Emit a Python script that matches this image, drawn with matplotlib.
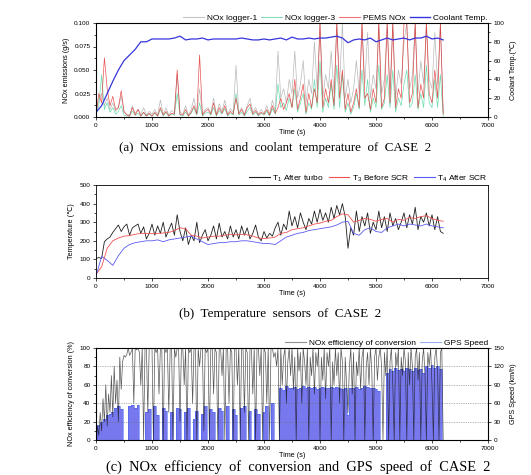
import numpy as np
import matplotlib
matplotlib.use("Agg")
import matplotlib.pyplot as plt
from matplotlib.ticker import MultipleLocator, AutoMinorLocator, FormatStrFormatter
from matplotlib.lines import Line2D

SANS = ["Liberation Sans", "DejaVu Sans"]
SERIF = ["Liberation Serif", "DejaVu Serif"]
plt.rcParams["font.family"] = SANS
plt.rcParams["mathtext.fontset"] = "custom"
plt.rcParams["mathtext.rm"] = "Liberation Sans"

TICK_FS = 4.6
LABEL_FS = 5.2
LEG_FS = 6.0
CAP_FS = 9.4

# ---------------- data ----------------
# (a) NOx emissions, mg/s, sampled every 50 s from 0 to 6200 s
nox_logger1 = [
    5, 18, 25, 12, 20, 8, 15, 6, 10, 22, 5, 3,
    2, 12, 4, 8, 3, 10, 2, 6, 3,
    8, 2, 18, 3, 10, 2, 7, 4, 45, 5,
    3, 12, 2, 8, 20, 4, 30, 3, 8, 10,
    4, 20, 3, 14, 6, 18, 3, 9, 5, 55,
    4, 10, 3, 12, 20, 5, 10, 3, 8, 4,
    12, 3, 18, 6, 70, 20, 30, 15, 40, 25,
    70, 20, 35, 60, 15, 40, 25, 80, 30, 100,
    20, 45, 30, 70, 25, 100, 35, 100, 20, 40,
    15, 30, 60, 25, 100, 35, 90, 20, 45, 30,
    100, 25, 40, 100, 30, 100, 20, 50, 35, 80,
    100, 30, 45, 100, 25, 60, 35, 100, 40, 30,
    90, 35, 100, 5,
]
nox_logger3 = [
    3, 12, 45, 8, 15, 5, 10, 3, 6, 12, 2, 1,
    1, 6, 2, 4, 1, 5, 1, 3, 1,
    4, 1, 8, 1, 5, 1, 3, 2, 25, 2,
    1, 5, 1, 4, 10, 2, 15, 1, 4, 5,
    2, 10, 1, 7, 3, 9, 1, 4, 2, 25,
    2, 5, 1, 6, 10, 2, 5, 1, 4, 2,
    6, 1, 9, 3, 35, 10, 15, 7, 20, 10,
    30, 5, 15, 25, 3, 15, 8, 40, 10, 60,
    5, 20, 10, 35, 8, 55, 10, 45, 5, 15,
    3, 10, 25, 8, 50, 12, 40, 5, 20, 10,
    55, 8, 15, 45, 10, 50, 5, 20, 12, 35,
    50, 10, 15, 45, 8, 25, 10, 55, 15, 10,
    40, 10, 45, 1,
]
nox_pems = [
    2, 25, 15, 63, 30, 12, 22, 8, 10, 28, 6, 2,
    1, 10, 2, 8, 1, 5, 1, 4, 1,
    5, 1, 10, 2, 6, 1, 4, 3, 50, 3,
    2, 8, 1, 5, 12, 3, 66, 2, 6, 8,
    3, 15, 2, 10, 4, 12, 2, 6, 3, 20,
    3, 8, 2, 10, 14, 3, 7, 2, 5, 3,
    8, 2, 12, 4, 10, 20, 8, 15, 25, 10,
    40, 8, 20, 35, 5, 25, 10, 30, 15, 100,
    10, 30, 15, 40, 12, 100, 20, 50, 8, 25,
    5, 15, 30, 10, 100, 20, 25, 8, 30, 15,
    100, 10, 20, 100, 15, 100, 10, 30, 20, 100,
    100, 15, 25, 100, 10, 35, 20, 100, 25, 15,
    50, 20, 100, 3,
]
# coolant temperature, every 100 s
coolant = [
    5, 12, 25, 38, 50, 60, 66, 72, 80, 80,
    83, 83, 83, 83, 84, 86, 82, 83, 83, 84,
    82, 83, 83, 83, 83, 83, 84, 83, 82, 82,
    83, 82, 83, 84, 82, 85, 83, 83, 84, 83,
    84, 84, 85, 86, 84, 79, 82, 83, 82, 84,
    80, 82, 84, 82, 83, 84, 82, 84, 84, 86,
    83, 84, 82,
]

# (b) temperatures
t1_turbo = [  # every 50 s
    105, 110, 105, 195, 210, 220, 245, 265, 285, 250, 275, 290,
    230, 270, 280, 290, 240, 275, 210, 240, 290,
    230, 280, 240, 300, 220, 260, 295, 230, 340, 250,
    200, 270, 180, 230, 200, 300, 190, 230, 260, 200,
    230, 280, 210, 295, 220, 250, 210, 280, 220, 260,
    210, 280, 230, 270, 210, 240, 285, 220, 200, 250,
    215, 240, 225, 270, 300, 230, 290, 260, 360, 280,
    330, 270, 350, 300, 260, 320, 290, 360, 300, 370,
    310, 350, 300, 380, 320, 390, 340, 400, 330, 160,
    270, 230, 360, 250, 330, 280, 350, 240, 300, 260,
    360, 270, 330, 250, 350, 280, 320, 260, 300, 350,
    270, 340, 290, 380, 260, 330, 300, 350, 280, 340,
    260, 330, 250, 240,
]
t3_before_scr = [  # every 100 s
    20, 60, 160, 200, 215, 225, 228, 235, 240, 240,
    238, 240, 242, 245, 255, 270, 265, 230, 225, 215,
    220, 225, 225, 230, 235, 232, 235, 232, 225, 215,
    212, 215, 220, 240, 245, 260, 265, 270, 280, 290,
    295, 305, 310, 330, 345, 340, 300, 310, 320, 315,
    305, 315, 320, 300, 315, 310, 325, 320, 330, 335,
    320, 310, 305,
]
t4_after_scr = [  # every 100 s
    10, 115, 95, 68, 120, 160, 180, 190, 195, 200,
    200, 205, 195, 205, 210, 215, 220, 225, 210, 195,
    180, 185, 190, 190, 195, 195, 200, 200, 195, 190,
    185, 185, 180, 200, 220, 230, 240, 245, 255, 260,
    265, 270, 275, 285, 300, 305, 240, 230, 260, 270,
    250, 245, 270, 280, 290, 280, 290, 285, 280, 290,
    280, 275, 270,
]

# (c) NOx conversion efficiency (%), every 25 s
nox_efficiency = [
    0, 15, 5, 30, 10, 45, 20, 60, 15, 50, 30, 70, 25, 80, 40, 65, 20, 90, 55, 85,
    92, 90, 93, 100, 92, 95, 100, 40, 100, 98, 100, 95, 60, 100, 0, 100, 100, 30, 100, 100,
    100, 0, 100, 95, 100, 50, 100, 100, 0, 100, 95, 100, 30, 100, 100, 0, 100, 90, 100, 100,
    20, 100, 100, 60, 100, 0, 100, 95, 100, 40, 100, 100, 0, 100, 80, 100, 100, 10, 100, 95,
    100, 0, 100, 100, 50, 100, 95, 0, 100, 100, 70, 100, 0, 100, 100, 40, 100, 95, 0, 100,
    100, 60, 100, 0, 100, 100, 30, 100, 95, 0, 100, 100, 50, 100, 0, 100, 100, 70, 100, 0,
    100, 95, 40, 100, 0, 100, 100, 90, 95, 80, 100, 0, 100, 60, 90, 100, 40, 85, 100, 70,
    100, 55, 90, 0, 100, 75, 95, 40, 100, 85, 60, 100, 0, 90, 70, 100, 50, 95, 80, 100,
    0, 90, 65, 100, 45, 95, 80, 100, 0, 85, 60, 100, 70, 95, 40, 100, 85, 0, 90, 60,
    30, 80, 100, 50, 95, 0, 85, 70, 100, 55, 90, 100, 0, 80, 95, 60, 100, 75, 0, 90,
    100, 65, 90, 100, 80, 0, 95, 70, 100, 0, 85, 100, 60, 0, 95, 80, 100, 0, 90, 70,
    100, 85, 0, 95, 60, 100, 80, 0, 90, 100, 65, 95, 0, 85, 100, 70, 0, 95, 80, 100,
    60, 0, 90, 100, 75, 0, 95, 100, 0,
]
# GPS speed (km/h), every 50 s
gps_speed = [
    0, 25, 30, 35, 40, 42, 45, 52, 55, 50, 0, 0,
    55, 57, 52, 57, 0, 0, 45, 50, 0,
    55, 40, 0, 52, 48, 0, 45, 0, 52, 50,
    0, 45, 52, 0, 35, 48, 0, 42, 55, 0,
    50, 45, 0, 52, 48, 0, 55, 0, 50, 40,
    0, 52, 55, 0, 48, 0, 50, 42, 0, 45,
    55, 0, 60, 0, 0, 85, 82, 88, 85, 84,
    86, 83, 85, 88, 84, 86, 85, 87, 83, 85,
    86, 84, 85, 87, 84, 86, 85, 83, 84, 40,
    85, 84, 86, 83, 85, 88, 86, 84, 85, 83,
    80, 0, 0, 110, 115, 112, 118, 114, 116, 113,
    117, 115, 112, 118, 114, 116, 110, 120, 118, 122,
    118, 120, 115, 0,
]

t50 = np.arange(len(nox_pems)) * 50
t100 = np.arange(len(coolant)) * 100
t25 = np.arange(len(nox_efficiency)) * 25


def style_axis(ax):
    ax.set_xlim(0, 7000)
    ax.xaxis.set_major_locator(MultipleLocator(1000))
    ax.xaxis.set_minor_locator(AutoMinorLocator(2))
    ax.yaxis.set_minor_locator(AutoMinorLocator(2))
    ax.tick_params(which="both", direction="out", labelsize=TICK_FS, width=0.5, pad=1.5)
    ax.tick_params(which="major", length=2.5)
    ax.tick_params(which="minor", length=1.5)
    for s in ax.spines.values():
        s.set_linewidth(0.6)
    ax.set_xlabel("Time (s)", fontsize=LABEL_FS, labelpad=1)


def top_legend(ax, handles, labels):
    ax.legend(handles, labels, ncol=len(labels), loc="lower right",
              bbox_to_anchor=(1.01, 0.97), frameon=False, fontsize=LEG_FS,
              handlelength=2.5, columnspacing=0.5, handletextpad=0.35,
              borderaxespad=0.1)


fig = plt.figure(figsize=(5.31, 4.75), dpi=100)
L, W = 96 / 531, 392 / 531

# ---------- (a) ----------
ax = fig.add_axes([L, 1 - 117 / 475, W, 94 / 475])
ax.plot(t50, np.array(nox_logger1) / 1000, color="#8c8c8c", lw=0.5, alpha=0.6)
ax.plot(t50, np.array(nox_logger3) / 1000, color="#2ecc8a", lw=0.5, alpha=0.7)
ax.plot(t50, np.array(nox_pems) / 1000, color="#e01818", lw=0.5, alpha=0.75)
ax.set_ylim(0, 0.1)
ax.yaxis.set_major_locator(MultipleLocator(0.025))
ax.yaxis.set_major_formatter(FormatStrFormatter("%.3f"))
style_axis(ax)
ax.set_ylabel("NOx emissions (g/s)", fontsize=LABEL_FS, labelpad=3)
ax2 = ax.twinx()
ax2.plot(t100, coolant, color="#3535dd", lw=0.9)
ax2.set_ylim(0, 100)
ax2.yaxis.set_major_locator(MultipleLocator(20))
ax2.yaxis.set_minor_locator(AutoMinorLocator(2))
ax2.tick_params(which="both", direction="out", labelsize=TICK_FS, width=0.5, pad=1.5)
ax2.tick_params(which="major", length=2.5)
ax2.tick_params(which="minor", length=1.5)
ax2.set_ylabel("Coolant Temp.(℃)", fontsize=LABEL_FS, labelpad=4)
top_legend(ax, [
    Line2D([], [], color="#8c8c8c", lw=0.8, alpha=0.5),
    Line2D([], [], color="#2ecc8a", lw=0.8, alpha=0.6),
    Line2D([], [], color="#e01818", lw=0.8, alpha=0.6),
    Line2D([], [], color="#3535dd", lw=1.0),
], ["NOx logger-1", "NOx logger-3", "PEMS NOx", "Coolant Temp."])
fig.text(0.518, 1 - 148 / 475, "(a)  NOx  emissions  and  coolant  temperature  of  CASE  2",
         ha="center", va="center", fontsize=CAP_FS, family=SERIF)

# ---------- (b) ----------
bx = fig.add_axes([L, 1 - 278 / 475, W, 93 / 475])
bx.plot(t50, t1_turbo, color="#202020", lw=0.6)
bx.plot(t100, t3_before_scr, color="#f05050", lw=0.6)
bx.plot(t100, t4_after_scr, color="#5a5af0", lw=0.6)
bx.set_ylim(0, 500)
bx.yaxis.set_major_locator(MultipleLocator(100))
style_axis(bx)
bx.set_ylabel("Temperature (℃)", fontsize=LABEL_FS, labelpad=3)
top_legend(bx, [
    Line2D([], [], color="#202020", lw=0.8),
    Line2D([], [], color="#f05050", lw=0.8),
    Line2D([], [], color="#5a5af0", lw=0.8),
], ["T$_1$ After turbo", "T$_3$ Before SCR", "T$_4$ After SCR"])
fig.text(0.527, 1 - 314 / 475, "(b)  Temperature  sensors  of  CASE  2",
         ha="center", va="center", fontsize=CAP_FS, family=SERIF)

# ---------- (c) ----------
cx = fig.add_axes([L, 1 - 440 / 475, W, 92 / 475])
cx2 = cx.twinx()
cx2.fill_between(t50, gps_speed, 0, color="#7878ee", lw=0, step="mid")
cx2.step(t50, gps_speed, where="mid", color="#4466f0", lw=0.4)
cx2.set_ylim(0, 150)
cx2.yaxis.set_major_locator(MultipleLocator(30))
cx2.tick_params(which="both", direction="out", labelsize=TICK_FS, width=0.5, pad=1.5, length=2.5)
cx2.grid(axis="y", color="#707070", lw=0.5, ls=(0, (1, 1.5)))
cx2.set_ylabel("GPS Speed (km/h)", fontsize=LABEL_FS, labelpad=4)
cx2.set_zorder(cx.get_zorder() - 1)
cx.patch.set_visible(False)
cx.plot(t25, nox_efficiency, color="#101010", lw=0.5, alpha=0.7)
cx.set_ylim(0, 100)
cx.yaxis.set_major_locator(MultipleLocator(20))
style_axis(cx)
cx.set_ylabel("NOx efficiency of conversion (%)", fontsize=LABEL_FS, labelpad=3)
top_legend(cx, [Line2D([], [], color="#909090", lw=0.8),
                Line2D([], [], color="#9ab0f5", lw=0.8)],
           ["NOx efficiency of conversion", "GPS Speed"])
fig.text(0.561, 1 - 474.5 / 475, "(c)  NOx  efficiency  of  conversion  and  GPS  speed  of  CASE  2",
         ha="center", va="bottom", fontsize=10.4, family=SERIF)

fig.savefig("out.png", dpi=100)
